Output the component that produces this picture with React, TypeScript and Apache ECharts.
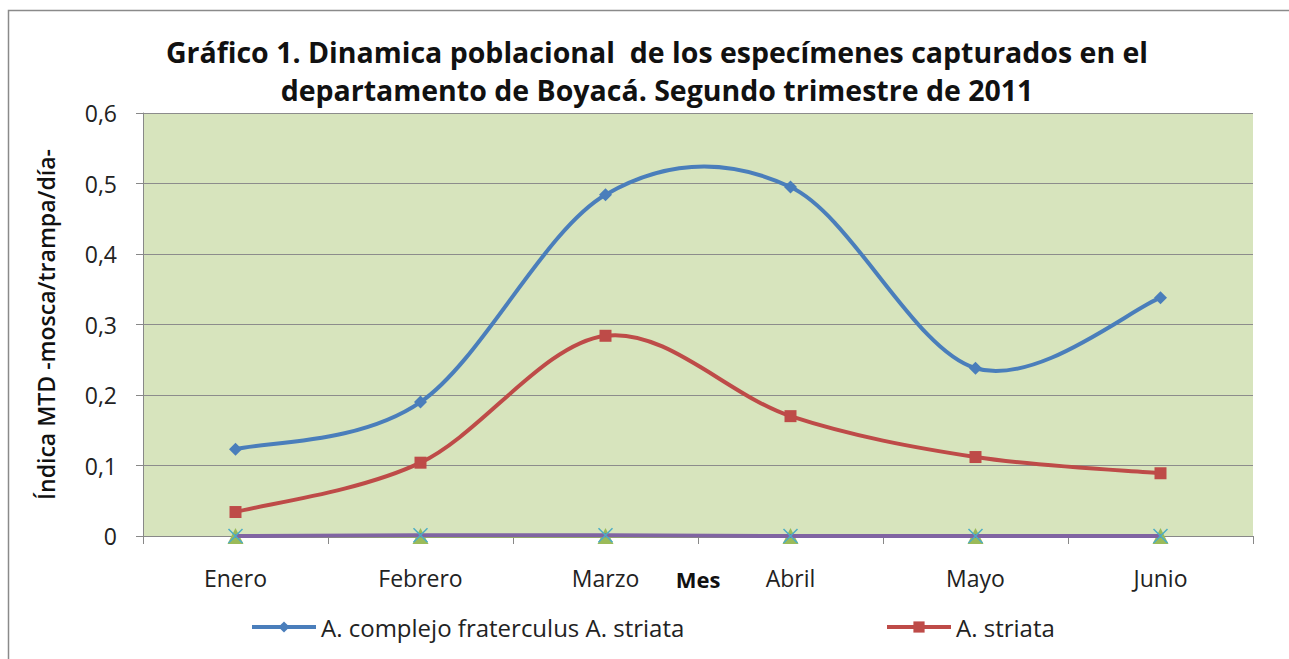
import React, { useEffect, useRef } from "react";
import * as echarts from "echarts";

const categories = ["Enero", "Febrero", "Marzo", "Abril", "Mayo", "Junio"];
const fraterculus = [0.123, 0.19, 0.484, 0.495, 0.238, 0.338];
const striata = [0.034, 0.104, 0.284, 0.17, 0.112, 0.089];
const serie3 = [0, 0, 0, 0, 0, 0];
const serie4 = [0, 0.001, 0.001, 0, 0, 0];
const yTicks = ["0", "0,1", "0,2", "0,3", "0,4", "0,5", "0,6"];

const FONT = "Open Sans";
const BLUE = "#4A7EBB";
const RED = "#BE4B48";
const NAME1 = "A. complejo fraterculus A. striata";
const NAME2 = "A. striata";

// Excel-like smoothed curve (Catmull-Rom -> cubic Bezier) through points from the axis scale
function smoothCurve(values: number[], color: string, name: string) {
  return {
    name,
    type: "custom",
    silent: true,
    z: 3,
    data: [[0, values[0]]],
    renderItem: (params: any, api: any) => {
      const pts = values.map((v, i) => api.coord([i, v]));
      let d = `M${pts[0][0]},${pts[0][1]}`;
      for (let i = 0; i < pts.length - 1; i++) {
        const p0 = pts[Math.max(i - 1, 0)];
        const p1 = pts[i];
        const p2 = pts[i + 1];
        const p3 = pts[Math.min(i + 2, pts.length - 1)];
        const c1 = [p1[0] + (p2[0] - p0[0]) / 6, p1[1] + (p2[1] - p0[1]) / 6];
        const c2 = [p2[0] - (p3[0] - p1[0]) / 6, p2[1] - (p3[1] - p1[1]) / 6];
        d += ` C${c1[0]},${c1[1]} ${c2[0]},${c2[1]} ${p2[0]},${p2[1]}`;
      }
      return {
        type: "path",
        shape: { pathData: d },
        style: { fill: "none", stroke: color, lineWidth: 4 },
      };
    },
  };
}

export default function App() {
  const ref = useRef<HTMLDivElement>(null);
  useEffect(() => {
    const chart = echarts.init(ref.current!, null, { renderer: "svg" });
    const legendText = { fontFamily: FONT, fontSize: 24, color: "#222" };
    chart.setOption({
      animation: false,
      textStyle: { fontFamily: FONT },
      title: {
        text: "Gráfico 1. Dinamica poblacional  de los especímenes capturados en el\ndepartamento de Boyacá. Segundo trimestre de 2011",
        left: 652,
        top: 28,
        textAlign: "center",
        textStyle: { fontFamily: FONT, fontSize: 28.5, fontWeight: "bold", color: "#111", lineHeight: 38 },
      },
      graphic: [
        {
          type: "rect",
          shape: { x: 8.5, y: 10.5, width: 1290, height: 660 },
          style: { fill: "none", stroke: "#8a8a8a", lineWidth: 1.5 },
          silent: true,
        },
      ],
      legend: [
        {
          data: [{ name: NAME1, lineStyle: { opacity: 1, width: 4 } }],
          left: 245,
          top: 610,
          itemWidth: 64,
          itemHeight: 14,
          textStyle: legendText,
        },
        {
          data: [{ name: NAME2, lineStyle: { opacity: 1, width: 4 } }],
          left: 880,
          top: 610,
          itemWidth: 64,
          itemHeight: 14,
          textStyle: legendText,
        },
      ],
      grid: { left: 143, right: 36, top: 113, bottom: 123, show: true, backgroundColor: "#D7E4BD", borderColor: "#D7E4BD", borderWidth: 0 },
      xAxis: {
        type: "category",
        data: categories,
        boundaryGap: true,
        name: "Mes",
        nameLocation: "middle",
        nameGap: 32,
        nameMoveOverlap: false,
        nameTextStyle: { fontFamily: FONT, fontSize: 22, fontWeight: "bold", color: "#111" },
        axisLine: { lineStyle: { color: "#888", width: 1 } },
        axisTick: { show: true, inside: false, length: 8, lineStyle: { color: "#888" } },
        axisLabel: { fontFamily: FONT, fontSize: 23, color: "#222", margin: 30 },
        splitLine: { show: false },
      },
      yAxis: {
        type: "value",
        min: 0,
        max: 0.6,
        interval: 0.1,
        name: "Índica MTD -mosca/trampa/día-",
        nameLocation: "middle",
        nameGap: 86,
        nameMoveOverlap: false,
        nameTextStyle: { fontFamily: FONT, fontSize: 23, color: "#111", fontWeight: 600 },
        axisLine: { show: true, lineStyle: { color: "#888" } },
        axisTick: { show: true, length: 7, lineStyle: { color: "#888" } },
        axisLabel: {
          fontFamily: FONT,
          fontSize: 23,
          color: "#222",
          margin: 26,
          formatter: (v: number) => yTicks[Math.round(v * 10)],
        },
        splitLine: { show: true, lineStyle: { color: "#8c8c8c", width: 1 } },
      },
      series: [
        {
          name: "serie3",
          type: "line",
          data: serie3,
          symbol: "triangle",
          symbolSize: 16,
          itemStyle: { color: "#9BBB59" },
          lineStyle: { color: "#9BBB59", width: 4 },
          z: 2,
        },
        {
          name: "serie4",
          type: "line",
          data: serie4,
          symbol: "path://M0,0L10,10M10,0L0,10",
          symbolSize: 14,
          itemStyle: { color: "none", borderColor: "#4BACC6", borderWidth: 1.5 },
          lineStyle: { color: "#8064A2", width: 4 },
          z: 3,
        },
        smoothCurve(striata, RED, "curve-striata"),
        smoothCurve(fraterculus, BLUE, "curve-fraterculus"),
        {
          name: NAME1,
          type: "line",
          data: fraterculus,
          symbol: "diamond",
          symbolSize: 13,
          itemStyle: { color: BLUE },
          lineStyle: { color: BLUE, width: 4, opacity: 0 },
          z: 6,
        },
        {
          name: NAME2,
          type: "line",
          data: striata,
          symbol: "rect",
          symbolSize: 12,
          itemStyle: { color: RED },
          lineStyle: { color: RED, width: 4, opacity: 0 },
          z: 5,
        },
      ],
    });
    return () => chart.dispose();
  }, []);
  return (
    <div
      ref={ref}
      style={{ position: "absolute", left: 0, top: 0, width: 1289, height: 659, background: "#fff" }}
    />
  );
}
